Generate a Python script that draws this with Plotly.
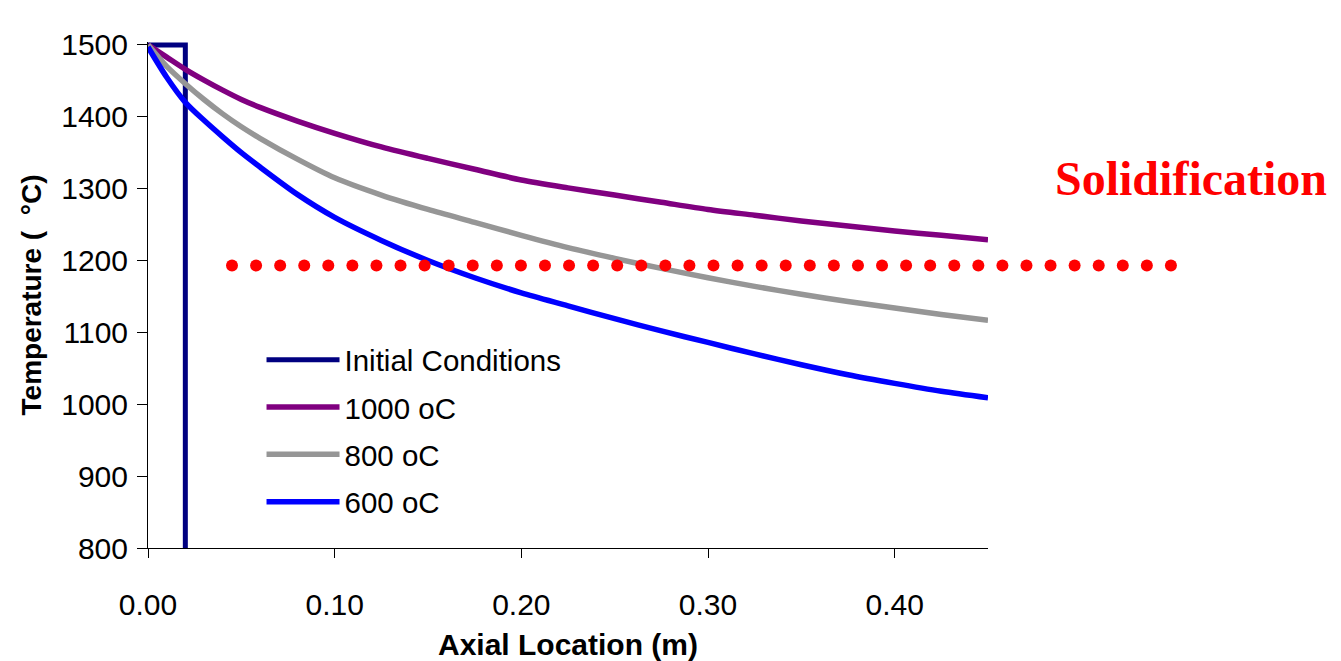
import numpy as np
import plotly.graph_objects as go

# ---- data ----
x_pos = [0, 0.01, 0.02, 0.03, 0.04, 0.05, 0.06, 0.08, 0.10, 0.125, 0.15, 0.175,
         0.20, 0.225, 0.25, 0.275, 0.30, 0.325, 0.35, 0.375, 0.40, 0.425, 0.45]

t_1000 = [1500, 1483, 1466, 1451, 1437, 1424, 1413, 1394, 1377, 1358, 1342, 1327,
          1312, 1301, 1291, 1281, 1271, 1263, 1255, 1248, 1241, 1235, 1229]
t_800 = [1500, 1470, 1446, 1424, 1404, 1386, 1370, 1341, 1315, 1291, 1271, 1253,
         1235, 1218, 1203, 1189, 1176, 1164, 1153, 1143, 1134, 1125, 1117]
t_600 = [1497, 1455, 1420, 1395, 1372, 1350, 1330, 1292, 1260, 1228, 1200, 1176,
         1155, 1137, 1119, 1102, 1086, 1070, 1055, 1041, 1029, 1018, 1009]

init_x = [0, 0.02, 0.02]
init_t = [1500, 1500, 800]

solid_temp = 1193
solid_x_start = 0.045
solid_x_end = 0.548
solid_n_dots = 40

series_names = ["Initial Conditions", "1000 oC", "800 oC", "600 oC"]
series_colors = ["#000080", "#800080", "#969696", "#0000FF"]

x_ticks = [0.0, 0.1, 0.2, 0.3, 0.4]
y_ticks = [800, 900, 1000, 1100, 1200, 1300, 1400, 1500]

x_max = 0.45
y_range = [800, 1504]

FONT = "Liberation Sans, Arial, sans-serif"

# layout geometry (main plot is 840 px wide inside a 1032 px paper area,
# the extra room on the right lets the dotted line run past the axes)
main_frac = 840 / 1032
x2_max = x_max / main_frac

fig = go.Figure()

fig.add_trace(go.Scatter(x=init_x, y=init_t, mode="lines", name=series_names[0],
                         legendgroup="g0",
                         line=dict(color=series_colors[0], width=5)))
for i, ys in enumerate([t_1000, t_800, t_600], start=1):
    fig.add_trace(go.Scatter(x=x_pos, y=ys, mode="lines", name=series_names[i],
                             legendgroup=f"g{i}",
                             line=dict(color=series_colors[i], width=5.5, shape="spline",
                                       smoothing=0.8)))

# dotted solidification line (dots drawn as markers on a wider twin subplot)
dot_x = np.linspace(solid_x_start, solid_x_end, solid_n_dots)
fig.add_trace(go.Scatter(x=dot_x, y=[solid_temp] * solid_n_dots, mode="markers",
                         xaxis="x2", yaxis="y2",
                         marker=dict(color="#FF0000", size=12, line=dict(width=0)),
                         showlegend=False, hoverinfo="skip"))

fig.add_annotation(text="<b>Solidification</b>", xref="paper", yref="paper",
                   x=0.8774, y=0.731, xanchor="left", yanchor="middle", showarrow=False,
                   font=dict(family="Liberation Serif, Times New Roman, serif", size=48,
                             color="#FF0000"))

fig.update_layout(
    width=1333, height=653,
    margin=dict(l=140, r=161, t=34, b=113),
    paper_bgcolor="white", plot_bgcolor="rgba(0,0,0,0)",
    font=dict(family=FONT, size=30, color="black"),
    showlegend=True,
    legend=dict(x=0.110, y=0.423, xanchor="left", yanchor="top",
                bgcolor="rgba(0,0,0,0)", borderwidth=0,
                font=dict(family=FONT, size=29.5, color="black"),
                tracegroupgap=6, itemwidth=73),
    xaxis=dict(domain=[0, main_frac], range=[0, x_max], tickvals=x_ticks, tickformat=".2f",
               automargin=False,
               showgrid=False, zeroline=False, showline=True, linecolor="black",
               linewidth=1, ticks="outside", ticklen=9, tickcolor="black",
               tickfont=dict(family=FONT, size=30, color="black"),
               ticklabelstandoff=21,
               title=dict(text="<b>Axial Location (m)</b>", standoff=16,
                          font=dict(family=FONT, size=30, color="black"))),
    yaxis=dict(domain=[0, 1], range=y_range, tickvals=y_ticks,
               automargin=False,
               showgrid=False, zeroline=False, showline=True, linecolor="black",
               linewidth=1, ticks="outside", ticklen=10, tickcolor="black",
               tickfont=dict(family=FONT, size=30, color="black"),
               ticklabelstandoff=3,
               title=dict(text="<b>Temperature (  °C)</b>", standoff=11,
                          font=dict(family=FONT, size=28, color="black"))),
    xaxis2=dict(domain=[0, 1], range=[0, x2_max], anchor="y2", visible=False,
                showgrid=False, zeroline=False),
    yaxis2=dict(domain=[0, 1], range=y_range, anchor="x2", visible=False,
                showgrid=False, zeroline=False),
)

fig.write_html("out.html")
